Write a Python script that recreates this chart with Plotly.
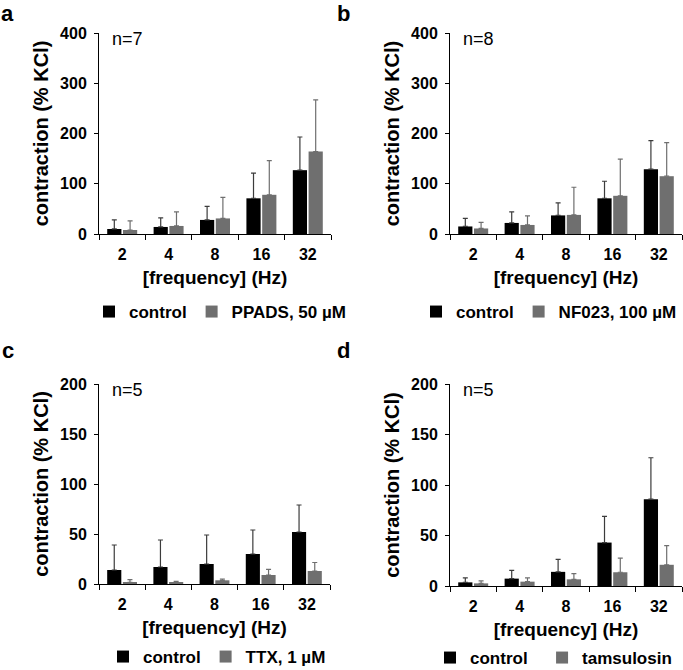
import plotly.graph_objects as go

W, H = 683, 670
FONT = "Liberation Sans, Arial, sans-serif"

freq = ["2", "4", "8", "16", "32"]

a_ctrl = [10, 14, 28, 71, 127]
a_ctrl_err = [18, 18, 27, 50, 66]
a_trt = [8, 16, 31, 78, 164]
a_trt_err = [18, 28, 42, 68, 103]

b_ctrl = [15, 22, 37, 71, 129]
b_ctrl_err = [16, 22, 25, 34, 57]
b_trt = [11, 18, 38, 76, 115]
b_trt_err = [12, 18, 55, 73, 67]

c_ctrl = [14, 17, 20, 30, 52]
c_ctrl_err = [25, 27, 29, 24, 27]
c_trt = [1.7, 2, 3.7, 9, 13]
c_trt_err = [2.6, 0.7, 1.3, 5.7, 8.5]

d_ctrl = [3.6, 7.3, 14, 43, 86]
d_ctrl_err = [4.4, 8.2, 12.4, 26, 41]
d_trt = [2.6, 4.3, 6.6, 13.6, 21]
d_trt_err = [2.4, 3.7, 5.6, 14, 19]

ctrl_names = ["control", "control", "control", "control\u00a0\u00a0"]

panels = [
    # letter, n, treatment label, ctrl, ctrl_err, trt, trt_err, ymax, dtick
    ("a", "n=7", "PPADS, 50 µM", a_ctrl, a_ctrl_err, a_trt, a_trt_err, 400, 100),
    ("b", "n=8", "NF023, 100 µM", b_ctrl, b_ctrl_err, b_trt, b_trt_err, 400, 100),
    ("c", "n=5", "TTX, 1 µM", c_ctrl, c_ctrl_err, c_trt, c_trt_err, 200, 50),
    ("d", "n=5", "tamsulosin", d_ctrl, d_ctrl_err, d_trt, d_trt_err, 200, 50),
]

# plot-area pixel boxes (left, right, top, bottom)
boxes = [
    (99, 331, 33, 234),
    (450, 682, 33, 234),
    (99, 330, 384, 584),
    (450, 682, 384, 586),
]
letter_pos = [(0, 0), (336, 0), (1, 337), (336, 337)]
legend_y = [312, 312, 657, 658]
# (x pixel, anchor) for each legend
legend_x = [(89, "left"), (682, "right"), (103, "left"), (430, "left")]

CTRL = "#000000"
TRT = "#6f6f6f"

fig = go.Figure()
layout = dict(
    width=W, height=H,
    margin=dict(l=0, r=0, t=0, b=0, autoexpand=False),
    paper_bgcolor="white", plot_bgcolor="white",
    barmode="group", bargap=0.32, bargroupgap=0.1,
    font=dict(family=FONT, color="black"),
    annotations=[],
)

for i, (letter, ntxt, trt_name, ctrl, ctrl_err, trt, trt_err, ymax, dtick) in enumerate(panels):
    k = "" if i == 0 else str(i + 1)
    leg = "legend" if i == 0 else f"legend{i + 1}"
    xa, ya = f"x{k}", f"y{k}"
    fig.add_trace(go.Bar(
        x=freq, y=ctrl, name=ctrl_names[i], xaxis=xa, yaxis=ya, legend=leg,
        marker=dict(color=CTRL, line=dict(width=0)),
        error_y=dict(type="data", symmetric=False, array=ctrl_err,
                     arrayminus=[0] * len(ctrl), color="#3c3c3c",
                     thickness=1.2, width=2.5),
    ))
    fig.add_trace(go.Bar(
        x=freq, y=trt, name=trt_name, xaxis=xa, yaxis=ya, legend=leg,
        marker=dict(color=TRT, line=dict(width=0)),
        error_y=dict(type="data", symmetric=False, array=trt_err,
                     arrayminus=[0] * len(trt), color="#6f6f6f",
                     thickness=1.2, width=2.5),
    ))
    l, r, t, b = boxes[i]
    layout[f"xaxis{k}"] = dict(
        domain=[l / W, r / W], anchor=ya, type="category", automargin=False,
        range=[-0.5, 4.5], showline=True, linecolor="black", linewidth=1,
        ticks="outside", tickson="boundaries", ticklen=5, tickcolor="black",
        tickfont=dict(size=16, weight="bold"), ticklabelstandoff=6,
        showgrid=False, zeroline=False, fixedrange=True,
        title=dict(text="[frequency] (Hz)", font=dict(size=19, weight="bold"),
                   standoff=8),
    )
    layout[f"yaxis{k}"] = dict(
        domain=[1 - b / H, 1 - t / H], anchor=xa, automargin=False,
        range=[0, ymax], dtick=dtick, showline=True, linecolor="black",
        linewidth=1, ticks="outside", ticklen=4, tickcolor="black",
        tickfont=dict(size=16, weight="bold"), ticklabelstandoff=4,
        showgrid=False, zeroline=False, fixedrange=True,
        title=dict(text="contraction (% KCl)", font=dict(size=20, weight="bold"),
                   standoff=6),
    )
    lxp, lanchor = legend_x[i]
    layout[leg] = dict(
        orientation="h", x=lxp / W, xanchor=lanchor,
        y=1 - legend_y[i] / H, yanchor="middle",
        font=dict(size=17, weight="bold", family=FONT),
        bgcolor="rgba(0,0,0,0)", itemclick=False, itemdoubleclick=False,
    )
    lx, ly = letter_pos[i]
    layout["annotations"].append(dict(
        text=letter, xref="paper", yref="paper", x=lx / W, y=1 - ly / H,
        xanchor="left", yanchor="top", showarrow=False, borderpad=0,
        font=dict(size=22, weight="bold", family=FONT),
    ))
    layout["annotations"].append(dict(
        text=ntxt, xref="paper", yref="paper", x=(l + 12) / W, y=1 - (t + 6) / H,
        xanchor="left", yanchor="middle", showarrow=False, borderpad=0,
        font=dict(size=18, family=FONT),
    ))

fig.update_layout(**layout)
fig.write_html(
    "out.html",
    config={"displayModeBar": False},
    post_script="document.body.style.margin='0';document.body.style.overflow='hidden';",
)
